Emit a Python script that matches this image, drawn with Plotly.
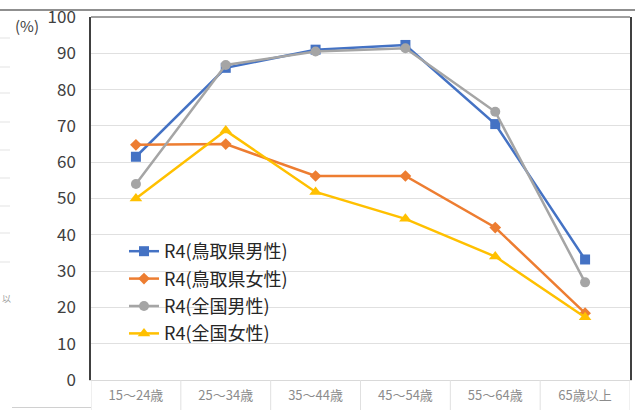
import plotly.graph_objects as go

categories = ["15～24歳", "25～34歳", "35～44歳", "45～54歳", "55～64歳", "65歳以上"]
tottori_male = [61.5, 86.0, 91.0, 92.3, 70.5, 33.2]
tottori_female = [64.8, 65.0, 56.2, 56.2, 42.0, 18.4]
national_male = [54.0, 86.8, 90.5, 91.4, 73.9, 26.9]
national_female = [50.0, 68.7, 51.8, 44.4, 34.0, 17.3]

names = ["R4(鳥取県男性)", "R4(鳥取県女性)", "R4(全国男性)", "R4(全国女性)"]
series = [tottori_male, tottori_female, national_male, national_female]
colors = ["#4472C4", "#ED7D31", "#A5A5A5", "#FFC000"]
symbols = ["square", "diamond", "circle", "triangle-up"]
msizes = [10, 9, 10, 11]

FONT = "Noto Sans CJK JP"

fig = go.Figure()
for i, (n, s) in enumerate(zip(names, series)):
    fig.add_trace(go.Scatter(
        x=categories, y=s, name=n, mode="lines+markers",
        line=dict(color=colors[i], width=2.5),
        marker=dict(symbol=symbols[i], size=msizes[i], color=colors[i]),
        legendgroup=f"g{i}",
    ))

W, H = 639, 410
L, R, T, B = 91, 9, 17, 30
pw, ph = W - L - R, H - T - B

def px(x):
    return (x - L) / pw

def py(y):
    return (H - B - y) / ph

shapes = []
# top frame line of plot area
shapes.append(dict(type="line", xref="paper", yref="paper", x0=0, x1=1, y0=1, y1=1,
                   line=dict(color="#404040", width=1)))
# screenshot top border line
shapes.append(dict(type="line", xref="paper", yref="paper", x0=px(0), x1=px(635), y0=py(10), y1=py(10),
                   line=dict(color="#202020", width=1.2)))
# table-like category separators under the x axis
for k in range(len(categories) + 1):
    shapes.append(dict(type="line", xref="x", yref="paper", x0=k - 0.5, x1=k - 0.5,
                       y0=py(410), y1=0, line=dict(color="#E0E0E0", width=1)))
# bottom line fragment
shapes.append(dict(type="line", xref="paper", yref="paper", x0=px(12), x1=px(91), y0=py(407.5), y1=py(407.5),
                   line=dict(color="#D0D0D0", width=1)))
# left-edge fragments of a neighbouring chart
for yy in [38, 67, 93, 122, 150, 178, 206, 233, 262]:
    shapes.append(dict(type="line", xref="paper", yref="paper", x0=px(0), x1=px(10), y0=py(yy), y1=py(yy),
                       line=dict(color="#E3E3E3", width=1)))

fig.update_layout(
    width=W, height=H,
    margin=dict(l=L, r=R, t=T, b=B, autoexpand=False),
    paper_bgcolor="white", plot_bgcolor="white",
    font=dict(family=FONT, color="#404040"),
    showlegend=True,
    legend=dict(x=px(124), y=py(233), xanchor="left", yanchor="top",
                bgcolor="rgba(0,0,0,0)", font=dict(size=18, color="#262626"),
                tracegroupgap=1, itemwidth=30),
    shapes=shapes,
    annotations=[
        dict(text="(%)", xref="paper", yref="paper", x=px(27), y=py(25), showarrow=False,
             font=dict(size=15, color="#404040"), xanchor="center", yanchor="middle"),
        dict(text="以", xref="paper", yref="paper", x=px(6), y=py(298), showarrow=False,
             font=dict(size=9, color="#A0A0A0"), xanchor="center", yanchor="middle"),
    ],
)
fig.update_xaxes(
    type="category", range=[-0.5, len(categories) - 0.5],
    showgrid=False, showline=True, linecolor="#D9D9D9", linewidth=1,
    ticks="", tickfont=dict(size=13, color="#8C8C8C", family=FONT),
    ticklabelstandoff=3, zeroline=False,
)
fig.update_yaxes(
    range=[0, 100], dtick=10, showgrid=True, gridcolor="#E0E0E0", gridwidth=1,
    showline=True, linecolor="#404040", linewidth=1.5, mirror=True,
    ticks="", tickfont=dict(size=17, color="#404040", family=FONT),
    ticklabelstandoff=10, zeroline=False,
)

fig.write_html("out.html", config={"displayModeBar": False},
               post_script="document.body.style.margin='0';document.body.style.padding='0';")
